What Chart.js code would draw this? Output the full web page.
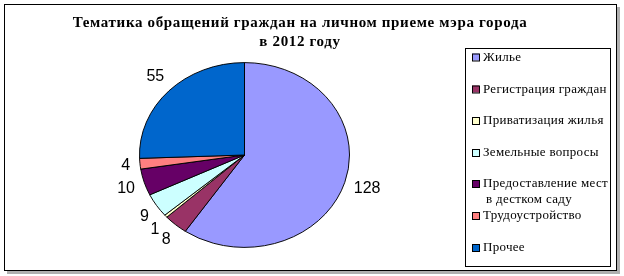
<!DOCTYPE html>
<html lang="ru">
<head>
    <meta charset="UTF-8">
    <title>Тематика обращений граждан</title>
    <script src="https://cdn.jsdelivr.net/npm/chart.js"></script>
    <style>
        body {
            margin: 0;
            background-color: white;
        }
        #frame {
            position: absolute;
            left: 4px;
            top: 4px;
            width: 611px;
            height: 265px;
            border: 1px solid black;
            box-shadow: 3px 3px 0 #b0b0b0;
        }
        #myChart {
            position: absolute;
            left: 0;
            top: 0;
        }
    </style>
</head>
<body>

    <div id="frame"></div>
    <canvas id="myChart" width="624" height="276"></canvas>

    <script>
        var titleLines = ['Тематика обращений граждан на личном приеме мэра города', 'в 2012 году'];
        var categories = ['Жилье', 'Регистрация граждан', 'Приватизация жилья', 'Земельные вопросы',
            ['Предоставление мест', 'в дестком саду'], 'Трудоустройство', 'Прочее'];
        var values = [128, 8, 1, 9, 10, 4, 55];
        var colors = ['#9999FF', '#993366', '#FFFFCC', '#CCFFFF', '#660066', '#FF8080', '#0066CC'];

        var squash = 0.88; // the pie is drawn as an ellipse

        var squashPlugin = {
            id: 'squash',
            beforeDatasetsDraw: function (chart) {
                var arc = chart.getDatasetMeta(0).data[0];
                var ctx = chart.ctx;
                ctx.save();
                ctx.translate(arc.x, arc.y);
                ctx.scale(1, squash);
                ctx.translate(-arc.x, -arc.y);
            },
            afterDatasetsDraw: function (chart) {
                chart.ctx.restore();
            }
        };

        var textPlugin = {
            id: 'texts',
            afterDraw: function (chart) {
                var ctx = chart.ctx;
                ctx.save();

                // title
                ctx.fillStyle = 'black';
                ctx.textAlign = 'center';
                ctx.textBaseline = 'middle';
                ctx.font = 'bold 15px "Liberation Serif"';
                ctx.letterSpacing = '0.65px';
                ctx.fillText(titleLines[0], 300, 23);
                ctx.fillText(titleLines[1], 300, 42);
                ctx.letterSpacing = '0px';

                // value labels outside the slices
                ctx.font = '16px "Liberation Sans"';
                chart.getDatasetMeta(0).data.forEach(function (arc, i) {
                    var mid = (arc.startAngle + arc.endAngle) / 2;
                    var dx = Math.cos(mid), dy = Math.sin(mid);
                    var text = String(values[i]);
                    var w = ctx.measureText(text).width;
                    var x = arc.x + arc.outerRadius * dx + 10 * dx + dx * w / 2;
                    var y = arc.y + arc.outerRadius * squash * dy + 10 * dy + dy * 10;
                    ctx.fillText(text, x, y);
                });

                // legend
                ctx.strokeStyle = 'black';
                ctx.lineWidth = 1;
                ctx.strokeRect(465.5, 48.5, 145, 218);
                ctx.textAlign = 'left';
                ctx.font = '13px "Liberation Serif"';
                ctx.letterSpacing = '0.3px';
                var rows = [57.5, 89.5, 121, 153, 184, 216, 248];
                categories.forEach(function (cat, i) {
                    var y = rows[i];
                    ctx.fillStyle = colors[i];
                    ctx.fillRect(472, y - 4, 7, 7);
                    ctx.strokeRect(472.5, y - 3.5, 7, 7);
                    ctx.fillStyle = 'black';
                    var lines = Array.isArray(cat) ? cat : [cat];
                    lines.forEach(function (line, j) {
                        ctx.fillText(line, j === 0 ? 483 : 486, y + j * 16);
                    });
                });

                ctx.restore();
            }
        };

        var ctx = document.getElementById('myChart').getContext('2d');
        var myChart = new Chart(ctx, {
            type: 'pie',
            data: {
                labels: categories,
                datasets: [{
                    data: values,
                    backgroundColor: colors,
                    borderColor: 'black',
                    borderWidth: 1
                }]
            },
            options: {
                responsive: false,
                animation: false,
                layout: {
                    padding: { left: 139, right: 274, top: 49.5, bottom: 15.5 }
                },
                plugins: {
                    legend: { display: false },
                    title: { display: false },
                    tooltip: { enabled: false }
                }
            },
            plugins: [squashPlugin, textPlugin]
        });
    </script>

</body>
</html>
